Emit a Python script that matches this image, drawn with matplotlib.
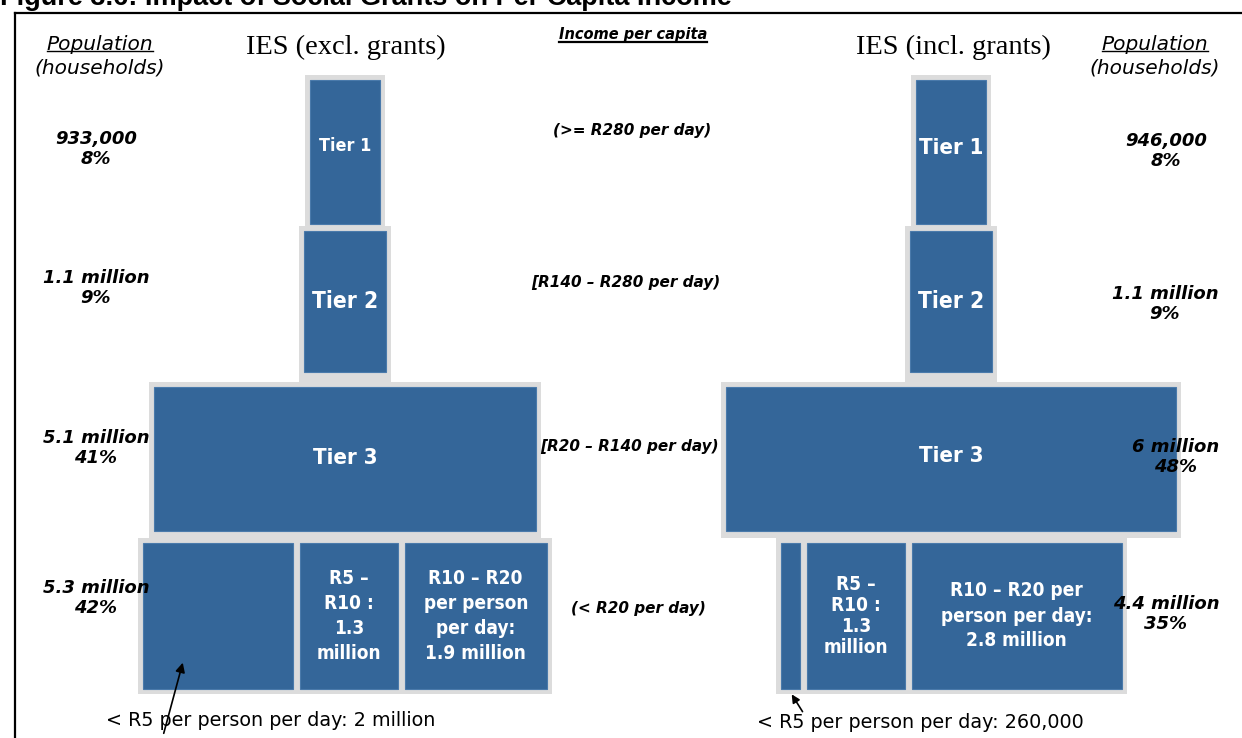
import matplotlib
matplotlib.use('Agg')
import matplotlib.pyplot as plt
from matplotlib.patches import Rectangle
from matplotlib import font_manager

# households (millions) per income tier, before and after social grants
tier_names = ['Tier 1', 'Tier 2', 'Tier 3']
excl_households = [0.933, 1.1, 5.1, 5.3]
incl_households = [0.946, 1.1, 6.0, 4.4]
excl_counts = ['933,000', '1.1 million', '5.1 million', '5.3 million']
incl_counts = ['946,000', '1.1 million', '6 million', '4.4 million']
excl_share = [8, 9, 41, 42]
incl_share = [8, 9, 48, 35]
income_bands = ['(>= R280 per day)', '[R140 – R280 per day)',
                '[R20 – R140 per day)', '(< R20 per day)']

# split of the bottom tier (< R20 per person per day)
excl_low = [2.0, 1.3, 1.9]
incl_low = [0.26, 1.3, 2.8]
excl_low_labels = ['', 'R5 –\nR10 :\n1.3\nmillion',
                   'R10 – R20\nper person\nper day:\n1.9 million']
incl_low_labels = ['', 'R5 –\nR10 :\n1.3\nmillion',
                   'R10 – R20 per\nperson per day:\n2.8 million']

BLUE = '#346699'
GREY = '#dcdcdc'
K = 75          # px per million households
PAD = 5
GAP = 7
row_top = [80, 231, 387, 543]
row_bottom = [224, 372, 531, 689]

have = {f.name for f in font_manager.fontManager.ttflist}
if 'Liberation Sans Narrow' in have:
    NARROW, ns = 'Liberation Sans Narrow', 1.0
else:
    NARROW, ns = 'DejaVu Sans', 0.76

fig = plt.figure(figsize=(12.42, 7.38), dpi=100)
ax = fig.add_axes([0, 0, 1, 1])
ax.set_xlim(0, 1242)
ax.set_ylim(738, 0)
ax.axis('off')

# frame
ax.plot([15, 15], [13, 740], color='black', lw=1.6, clip_on=False)
ax.plot([15, 1245], [13, 13], color='black', lw=1.6, clip_on=False)
ax.text(0, 5, 'Figure 3.6: Impact of Social Grants on Per Capita Income',
        family='Liberation Sans', weight='bold', fontsize=19.5,
        ha='left', va='baseline')


def draw_column(cx, households, low, low_labels, tier_sizes, tier_y, low_spacing):
    # grey surround, joined down to the next tier
    for i in range(3):
        w = households[i] * K
        ax.add_patch(Rectangle((cx - w / 2 - PAD, row_top[i] - PAD), w + 2 * PAD,
                               row_top[i + 1] - row_top[i], fc=GREY, ec='none', zorder=1))
    widths = [v * K for v in low]
    total = sum(widths) + GAP * (len(widths) - 1)
    x0 = cx - total / 2
    ax.add_patch(Rectangle((x0 - PAD, row_top[3] - PAD), total + 2 * PAD,
                           row_bottom[3] - row_top[3] + 2 * PAD, fc=GREY, ec='none', zorder=1))
    for i in range(3):
        w = households[i] * K
        ax.add_patch(Rectangle((cx - w / 2, row_top[i]), w, row_bottom[i] - row_top[i],
                               fc=BLUE, ec='#4a7aab', lw=0.8, zorder=2))
        ax.text(cx, tier_y[i], tier_names[i], color='white', family=NARROW,
                fontstretch='condensed', weight='bold', fontsize=tier_sizes[i] * ns,
                ha='center', va='center', zorder=3)
    x = x0
    ymid = (row_top[3] + row_bottom[3]) / 2
    for w, lab, ls in zip(widths, low_labels, low_spacing):
        ax.add_patch(Rectangle((x, row_top[3]), w, row_bottom[3] - row_top[3],
                               fc=BLUE, ec='#4a7aab', lw=0.8, zorder=2))
        if lab:
            ax.text(x + w / 2, ymid, lab, color='white', family=NARROW,
                    fontstretch='condensed', weight='bold', fontsize=18 * ns,
                    ha='center', va='center', linespacing=ls, zorder=3)
        x += w + GAP
    return x0


lx = draw_column(345, excl_households, excl_low, excl_low_labels,
                 [17, 21.5, 21], [146, 301, 458], [1.4, 1.4, 1.4])
rx = draw_column(951, incl_households, incl_low, incl_low_labels,
                 [21, 21.5, 21], [148, 302, 456], [1.4, 1.15, 1.4])

lab_font = dict(family='DejaVu Sans', style='italic', weight='bold', fontsize=13,
                ha='center', va='center', linespacing=1.2, zorder=4)
left_y = [149, 288, 448, 598]
right_y = [151, 304, 457, 614]
right_x = [1166, 1165, 1176, 1166]
for i in range(4):
    ax.text(96, left_y[i], f'{excl_counts[i]}\n{excl_share[i]}%', **lab_font)
    ax.text(right_x[i], right_y[i], f'{incl_counts[i]}\n{incl_share[i]}%', **lab_font)

band_y = [130, 282, 446, 608]
band_x = [632, 626, 629, 638]
for bx, by, band in zip(band_x, band_y, income_bands):
    ax.text(bx, by, band, family='DejaVu Sans', style='italic', weight='bold',
            fontsize=11, ha='center', va='center')

# headers
ax.text(346, 47, 'IES (excl. grants)', family='Liberation Serif', fontsize=20.5,
        ha='center', va='center')
ax.text(953, 47, 'IES (incl. grants)', family='Liberation Serif', fontsize=20.5,
        ha='center', va='center')
pop_heads = []
for px in (100, 1155):
    pop_heads.append(ax.text(px, 44, 'Population', family='DejaVu Sans', style='italic',
                             fontsize=14.5, ha='center', va='center'))
    ax.text(px, 68, '(households)', family='DejaVu Sans', style='italic',
            fontsize=14.5, ha='center', va='center')
inc_head = ax.text(633, 35, 'Income per capita', family='DejaVu Sans', style='italic',
                   weight='bold', fontsize=10.5, ha='center', va='center')

# underlines
fig.canvas.draw()
renderer = fig.canvas.get_renderer()
inv = ax.transData.inverted()
for t, off, lw in [(pop_heads[0], 3, 1.0), (pop_heads[1], 3, 1.0), (inc_head, 1, 1.6)]:
    bb = t.get_window_extent(renderer).transformed(inv)
    yb = max(bb.y0, bb.y1) - off
    ax.plot([bb.x0, bb.x1], [yb, yb], color='black', lw=lw)

# bottom-row callouts
ax.text(106, 720, '< R5 per person per day: 2 million', family='DejaVu Sans',
        fontsize=13.8, ha='left', va='center')
ax.text(757, 722, '< R5 per person per day: 260,000', family='DejaVu Sans',
        fontsize=13.8, ha='left', va='center')
first_left = lx + excl_low[0] * K * 0.27
first_right = rx + incl_low[0] * K * 0.5
ax.annotate('', xy=(first_left, 660), xytext=(163, 736),
            arrowprops=dict(arrowstyle='-|>', color='black', lw=1.2, mutation_scale=14))
ax.annotate('', xy=(first_right, 692), xytext=(804, 714),
            arrowprops=dict(arrowstyle='-|>', color='black', lw=1.2, mutation_scale=12))

fig.savefig('out.png', dpi=100)
